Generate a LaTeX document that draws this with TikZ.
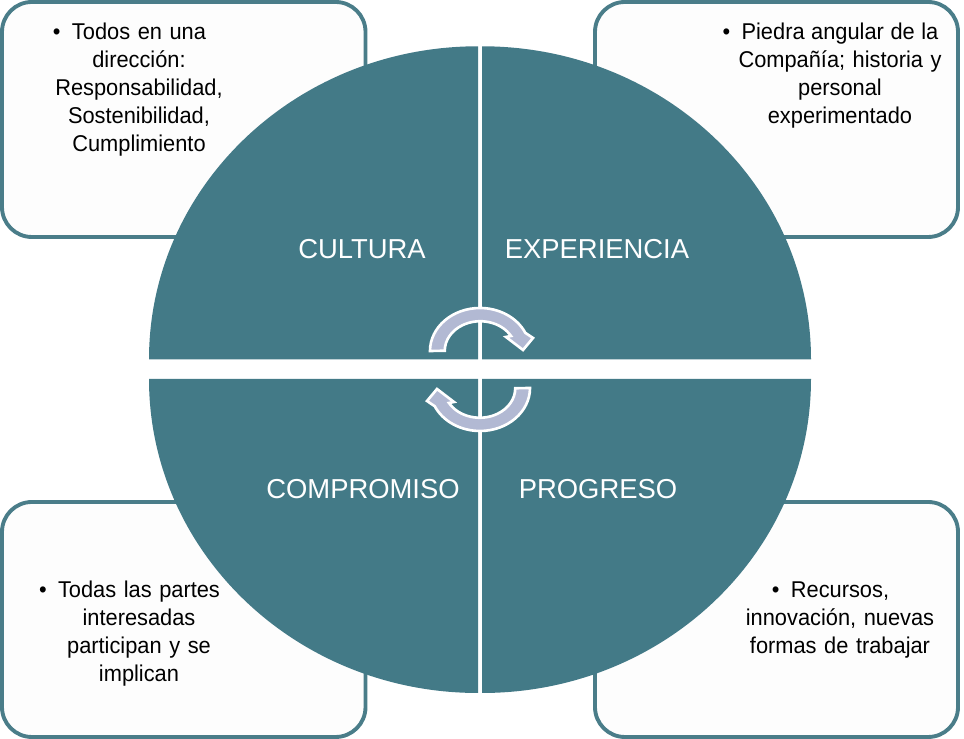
\documentclass[tikz,border=0pt]{standalone}
\usepackage{fontspec}
\setmainfont{Liberation Sans}
\newfontfamily\notefont[FakeStretch=.955, WordSpace=1.25]{Liberation Sans}
\definecolor{tealq}{HTML}{437A87}
\definecolor{tealb}{HTML}{4A7D89}
\definecolor{lilac}{HTML}{B2B9D3}
\definecolor{paper}{HTML}{FDFDFD}
\newcommand{\bul}{\llap{•\hspace{6.5pt}}}
\newcommand{\wline}[2]{\makebox[#1][s]{#2}}
\tikzset{
 notebox/.style={draw=tealb, fill=paper, line width=2.2pt, rounded corners=17pt},
 quarter/.style={fill=tealq},
 title/.style={text=white, font=\fontsize{15.6}{18}\selectfont},
 note/.style={anchor=north, inner sep=0pt, align=center, font=\notefont\fontsize{13}{15.95}\selectfont},
 cyclearrow/.pic={
  \draw[draw=white, fill=lilac, line width=1.5pt, line join=miter]
   (-50,0) arc[start angle=180, end angle=25, x radius=50, y radius=43]
   --(53,13)--(43,1)--(26,14)--(31,15)
   arc[start angle=30, end angle=180, x radius=35.5, y radius=29.5]--cycle;
 }
}
\begin{document}
\begin{tikzpicture}[x=.02cm, y=.02cm]
 \useasboundingbox (0,0) rectangle (964,739);
 % corner boxes
 \draw[notebox](2,502)rectangle(365.5,737);
 \draw[notebox](595,502)rectangle(958,737);
 \draw[notebox](2,2)rectangle(365.5,237);
 \draw[notebox](595,2)rectangle(958,237);
 % the four quarters
 \fill[quarter](478,379.7)--(149,379.7)arc[start angle=180, end angle=90, x radius=329, y radius=313]--cycle;
 \fill[quarter](482,379.7)--(811,379.7)arc[start angle=0, end angle=90, x radius=329, y radius=313]--cycle;
 \fill[quarter](478,360)--(149,360)arc[start angle=180, end angle=270, x radius=329, y radius=314]--cycle;
 \fill[quarter](482,360)--(811,360)arc[start angle=0, end angle=-90, x radius=329, y radius=314]--cycle;
 \node[title] (cultura) at (362,490) {CULTURA};
 \node[title] (experiencia) at (597,490) {EXPERIENCIA};
 \node[title] (compromiso) at (363,250) {COMPROMISO};
 \node[title] (progreso) at (598,250) {PROGRESO};
 % arrows in the middle
 \pic at (480,388) {cyclearrow};
 \pic[rotate=180] at (480,351) {cyclearrow};
 % texts of the boxes
 \node[note] (todos) at (139,716) {\bul Todos en una\\dirección:\\Responsabilidad,\\Sostenibilidad,\\Cumplimiento};
 \node[note] (piedra) at (840,716) {\bul\wline{112pt}{Piedra angular de la}\\\wline{115.5pt}{Compañía; historia y}\\personal\\experimentado};
 \node[note] (todas) at (139,158) {\bul Todas las partes\\interesadas\\participan y se\\implican};
 \node[note] (recursos) at (840,158) {\bul Recursos,\\innovación, nuevas\\formas de trabajar};
\end{tikzpicture}
\end{document}
